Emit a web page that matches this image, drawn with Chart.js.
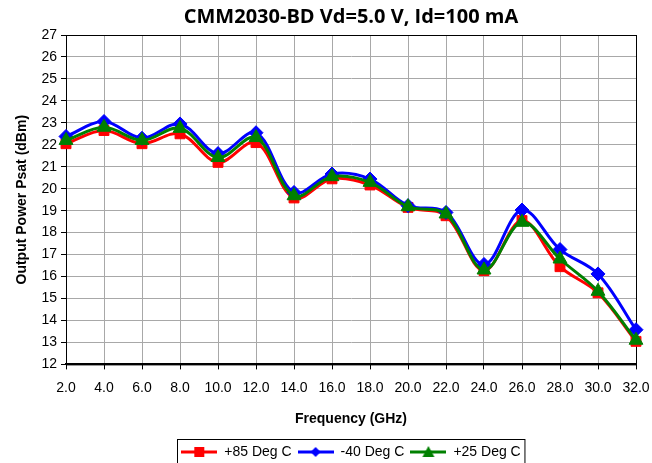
<!DOCTYPE html>
<html>
<head>
<meta charset="utf-8">
<script src="https://cdn.jsdelivr.net/npm/chart.js@4/dist/chart.umd.min.js"></script>
<style>
  html, body { margin: 0; padding: 0; background: #fff; }
  #wrap { width: 652px; height: 463px; }
</style>
</head>
<body>
<div id="wrap"><canvas id="chart"></canvas></div>
<script>
// frequency points (GHz)
const freqs = [2, 4, 6, 8, 10, 12, 14, 16, 18, 20, 22, 24, 26, 28, 30, 32];

// Psat (dBm) per temperature
const hot85 = [22.05, 22.65, 22.05, 22.5, 21.2, 22.1, 19.58, 20.45, 20.17, 19.15, 18.77, 16.27, 18.55, 16.45, 15.26, 13.05];
const cold40 = [22.38, 23.06, 22.3, 22.95, 21.6, 22.55, 19.83, 20.67, 20.44, 19.23, 18.92, 16.55, 19.03, 17.23, 16.12, 13.58];
const room25 = [22.2, 22.8, 22.2, 22.75, 21.42, 22.33, 19.68, 20.55, 20.29, 19.18, 18.85, 16.3, 18.47, 16.8, 15.33, 13.1];

const seriesNames = ['+85 Deg C', '-40 Deg C', '+25 Deg C'];
const seriesColors = ['#ff0000', '#0000ff', '#008000'];
const seriesMarkers = ['rect', 'rectRot', 'triangle'];

const FONT = '"Liberation Sans", Arial, sans-serif';

function points(vals) {
    return freqs.map((f, i) => ({ x: f, y: vals[i] }));
}

// little line+marker pictures for the legend
function legendIcon(color, marker) {
    const c = document.createElement('canvas');
    c.width = 36; c.height = 12;
    const g = c.getContext('2d');
    g.strokeStyle = color;
    g.fillStyle = color;
    g.lineWidth = 3;
    g.beginPath(); g.moveTo(0, 6); g.lineTo(36, 6); g.stroke();
    g.beginPath();
    if (marker === 'rect') {
        g.rect(13, 1, 10, 10);
    } else if (marker === 'rectRot') {
        g.moveTo(18, 1); g.lineTo(23, 6); g.lineTo(18, 11); g.lineTo(13, 6);
    } else {
        g.moveTo(18, 0); g.lineTo(24, 11); g.lineTo(12, 11);
    }
    g.closePath();
    g.fill();
    return c;
}

const icons = seriesColors.map((c, i) => legendIcon(c, seriesMarkers[i]));

const frame = {
    id: 'frame',
    beforeDatasetsDraw(chart) {
        const a = chart.chartArea;
        const ctx = chart.ctx;
        ctx.save();
        ctx.strokeStyle = '#000';
        ctx.lineWidth = 1;
        ctx.strokeRect(a.left + 0.5, a.top + 0.5, a.right - a.left, a.bottom - a.top);
        ctx.restore();
    },
    afterDraw(chart) {
        const boxes = chart.legend.legendHitBoxes;
        if (!boxes || !boxes.length) return;
        const left = Math.min(...boxes.map(b => b.left)) - 4;
        const right = Math.max(...boxes.map(b => b.left + b.width)) + 4;
        const top = chart.legend.top;
        const ctx = chart.ctx;
        ctx.save();
        ctx.strokeStyle = '#000';
        ctx.lineWidth = 1;
        ctx.strokeRect(Math.round(left) + 0.5, Math.round(top) + 0.5, right - left, chart.height - top + 10);
        ctx.restore();
    }
};

const datasets = [hot85, cold40, room25].map((vals, i) => ({
    label: seriesNames[i],
    data: points(vals),
    borderColor: seriesColors[i],
    backgroundColor: seriesColors[i],
    pointStyle: seriesMarkers[i],
    pointRadius: i === 2 ? 8 : 7,
    pointBorderWidth: 1,
    borderWidth: 3,
    tension: 0.35,
    clip: false,
    order: 3 - i
}));

new Chart(document.getElementById('chart'), {
    type: 'line',
    data: { datasets: datasets },
    plugins: [frame],
    options: {
        responsive: true,
        maintainAspectRatio: false,
        animation: false,
        layout: { padding: { left: 0, right: 16, top: 0, bottom: -6 } },
        plugins: {
            title: {
                display: true,
                fullSize: false,
                text: 'CMM2030-BD Vd=5.0 V, Id=100 mA',
                color: '#000',
                font: { family: '"Open Sans", sans-serif', size: 20, weight: 'bold' },
                padding: { top: 5, bottom: 6 }
            },
            legend: {
                position: 'bottom',
                fullSize: false,
                labels: {
                    color: '#000',
                    font: { family: FONT, size: 14 },
                    usePointStyle: true,
                    pointStyleWidth: 36,
                    padding: 6,
                    sort: (a, b) => a.datasetIndex - b.datasetIndex,
                    generateLabels(chart) {
                        const items = Chart.defaults.plugins.legend.labels.generateLabels(chart);
                        items.forEach(it => { it.pointStyle = icons[it.datasetIndex]; });
                        return items;
                    }
                }
            },
            tooltip: { enabled: false }
        },
        scales: {
            x: {
                type: 'linear',
                min: 2,
                max: 32,
                afterFit(scale) { scale.paddingRight = 0; scale.paddingLeft = 0; },
                ticks: {
                    stepSize: 2,
                    color: '#000',
                    font: { family: FONT, size: 14 },
                    padding: 10,
                    maxRotation: 0,
                    callback: v => v.toFixed(1)
                },
                grid: { color: '#a8a8a8', lineWidth: 1, tickColor: '#000', tickLength: 5 },
                border: { color: '#000', width: 2 },
                title: {
                    display: true,
                    text: 'Frequency (GHz)',
                    color: '#000',
                    font: { family: FONT, size: 14, weight: 'bold' },
                    padding: { top: 5, bottom: 11 }
                }
            },
            y: {
                min: 12,
                max: 27,
                afterFit(scale) { scale.width = 66; },
                ticks: {
                    stepSize: 1,
                    color: '#000',
                    font: { family: FONT, size: 14 },
                    padding: 4
                },
                grid: { color: '#a8a8a8', lineWidth: 1, tickColor: '#000', tickLength: 5 },
                border: { color: '#000', width: 1 },
                title: {
                    display: true,
                    text: 'Output Power Psat (dBm)',
                    color: '#000',
                    font: { family: FONT, size: 14, weight: 'bold' },
                    padding: { top: 14, bottom: 4 }
                }
            }
        }
    }
});
</script>
</body>
</html>
